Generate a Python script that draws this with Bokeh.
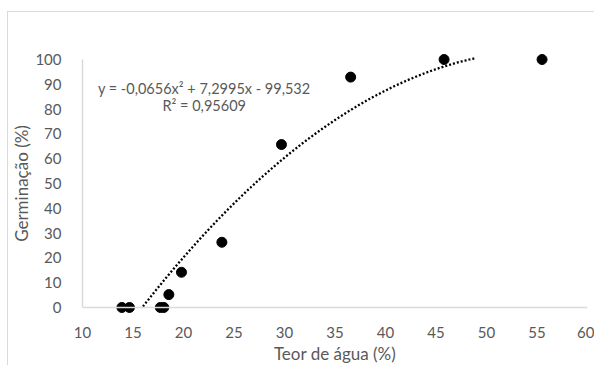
from bokeh.plotting import figure
from bokeh.models import Range1d, Label, FixedTicker, Span
from bokeh.embed import file_html
from bokeh.resources import INLINE
import numpy as np

# Data
teor_agua = [13.9, 14.65, 17.7, 18.05, 18.55, 19.8, 23.8, 29.7, 36.55, 45.8, 55.5]
germinacao = [0, 0, 0, 0, 5.2, 14.2, 26.3, 65.7, 92.9, 100, 100]
# trend line coefficients (as printed on the chart): y = a x^2 + b x + c
trend_coef = [-0.0656, 7.2995, -99.532]
eq_text = "y = -0,0656x² + 7,2995x - 99,532"
r2_text = "R² = 0,95609"
x_title = "Teor de água (%)"
y_title = "Germinação (%)"
x_ticks = [10, 15, 20, 25, 30, 35, 40, 45, 50, 55, 60]
y_ticks = [0, 10, 20, 30, 40, 50, 60, 70, 80, 90, 100]

FONT = "Lato"
GRAY = "#595959"
LINE = "#d9d9d9"

p = figure(width=587, height=354, output_backend="svg", toolbar_location=None,
           x_range=Range1d(10, 60), y_range=Range1d(-4.44, 104.44),
           min_border_left=70, min_border_right=8, min_border_top=36, min_border_bottom=48)
p.margin = (11, 0, 0, 7)
p.styles = {"border-left": "1px solid " + LINE, "border-top": "1px solid " + LINE}
p.outline_line_color = None
p.xgrid.grid_line_color = None
p.ygrid.grid_line_color = None

# x axis line at y = 0 (frame padded so markers are not clipped)
p.add_layout(Span(location=0, dimension="width", line_color=LINE, line_width=1.5))

# trend line from the printed equation, kept within the 0..100 axis
xt = np.linspace(min(teor_agua), max(teor_agua), 400)
yt = trend_coef[0] * xt**2 + trend_coef[1] * xt + trend_coef[2]
keep = (yt >= 0) & (yt <= 100.6)
p.line(xt[keep], yt[keep], line_color="black", line_width=2.3, line_dash="2 2", line_cap="butt")

p.scatter(teor_agua, germinacao, size=10, fill_color="black", line_color="black")

for ax in (p.xaxis, p.yaxis):
    ax.major_tick_line_color = None
    ax.minor_tick_line_color = None
    ax.major_label_text_font = FONT
    ax.major_label_text_font_size = "15px"
    ax.major_label_text_color = GRAY
    ax.axis_label_text_font = FONT
    ax.axis_label_text_font_size = "17px"
    ax.axis_label_text_color = GRAY
    ax.axis_label_text_font_style = "normal"

p.xaxis.axis_line_color = None
p.yaxis.axis_line_color = LINE
p.yaxis.axis_line_width = 1.5
p.yaxis.bounds = (0, 100)

p.xaxis.ticker = FixedTicker(ticks=x_ticks)
p.yaxis.ticker = FixedTicker(ticks=y_ticks)
p.xaxis.axis_label = x_title
p.yaxis.axis_label = y_title
p.xaxis.major_label_standoff = 2
p.yaxis.major_label_standoff = 15
p.xaxis.axis_label_standoff = 2
p.yaxis.axis_label_standoff = 0

p.add_layout(Label(x=22.05, y=88.3, text=eq_text, text_align="center", text_baseline="middle",
                   text_font=FONT, text_font_size="14.5px", text_color=GRAY))
p.add_layout(Label(x=22.05, y=81.4, text=r2_text, text_align="center", text_baseline="middle",
                   text_font=FONT, text_font_size="14.5px", text_color=GRAY))

open("out.html", "w").write(file_html(p, INLINE))
